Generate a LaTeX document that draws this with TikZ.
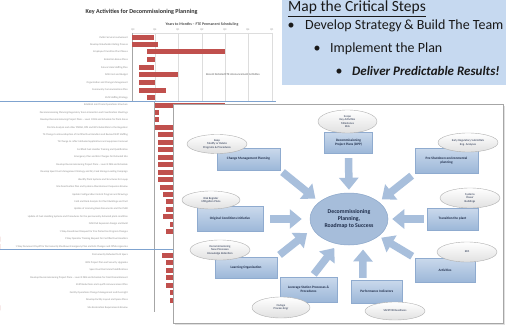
\documentclass[tikz,border=0pt]{standalone}
\usepackage{fontspec}
\setmainfont{Carlito}
\usetikzlibrary{arrows.meta,shapes.geometric,shadows}

\definecolor{labelgray}{HTML}{8C8C8C}
\definecolor{gridgray}{HTML}{DDDDDD}
\definecolor{barred}{HTML}{C0504D}
\definecolor{sepblue}{HTML}{7FA3CF}
\definecolor{notebg}{HTML}{C6D9F0}
\definecolor{boxtop}{HTML}{CAD9EC}
\definecolor{boxbot}{HTML}{9CB7D8}
\definecolor{boxline}{HTML}{8FABCF}
\definecolor{arrowblue}{HTML}{A8BFDC}
\definecolor{hubfill}{HTML}{A6BDDA}
\definecolor{hubline}{HTML}{8AA6C9}
\definecolor{ovalline}{HTML}{B0B0B0}
\definecolor{navy}{HTML}{1F2D4A}

\begin{document}
\begin{tikzpicture}[x=1pt,y=-1pt,
  rowlabel/.style={anchor=east,inner sep=0pt,text=labelgray,font=\fontsize{2.6}{3}\selectfont},
  bar/.style={fill=barred},
  gridline/.style={draw=gridgray,line width=0.4pt},
  axisline/.style={draw=black!35,line width=0.4pt},
  sepline/.style={draw=sepblue,line width=0.7pt},
  tick/.style={inner sep=0pt,text=labelgray,font=\fontsize{2.6}{3}\selectfont},
  stepbox/.style={rectangle,draw=boxline,line width=0.4pt,top color=boxtop,bottom color=boxbot,
    inner sep=1pt,align=center,text=navy,font=\bfseries\fontsize{3.4}{4.1}\selectfont,
    drop shadow={shadow xshift=0.8pt,shadow yshift=-0.8pt,opacity=0.25}},
  oval/.style={ellipse,draw=ovalline,line width=0.4pt,top color=white,bottom color=black!12,
    inner sep=0pt,align=center,text=navy,font=\fontsize{2.9}{3.5}\selectfont},
  hubstyle/.style={ellipse,draw=hubline,line width=0.5pt,fill=hubfill,inner sep=0pt,
    minimum width=78pt,minimum height=52pt,align=center,text=navy,
    font=\bfseries\fontsize{5.8}{7.4}\selectfont},
  blockarrow/.style={draw=arrowblue,line width=7.5pt,-{Triangle[width=19pt,length=12pt]}},
  notetext/.style={anchor=base west,inner sep=0pt,text=black!90,font=\fontsize{14}{16}\selectfont}
]
\useasboundingbox (0,0) rectangle (506,329);
\fill[white] (0,0) rectangle (506,329);

% ---------------- Gantt chart of planning activities ----------------
\node[inner sep=0pt,text=black!80,font=\bfseries\fontsize{6.1}{7}\selectfont] (ctitle) at (141.5,12) {Key Activities for Decommissioning Planning};
\node[inner sep=0pt,text=black!70,font=\bfseries\fontsize{3.9}{5}\selectfont] (csub) at (202,24) {Years to Months -- FTE Permanent Scheduling};

\foreach \x/\t [count=\i] in {133/Q3,155/Q4,178/Q1,202/Q2,225/Q3,248/Q4,272/Q1}
  \node[tick] (tk\i) at (\x,29.5) {\t};
\draw[gridline] (132,33) -- (273,33);
\foreach \x in {155,178,202,225,248,272}
  \draw[gridline] (\x,33) -- (\x,101);
\draw[axisline] (132,33) -- (132,101);
\draw[axisline] (154.5,101) -- (154.5,312);

\node[inner sep=0pt,text=black!65,font=\fontsize{2.9}{3.5}\selectfont] (cnote) at (233,75) {Recent Detailed FTE Announcement Activities};

% first group
\foreach \y/\t/\a/\b [count=\i] in {
  38/{Public Service Involvement}/132/154,
  44.5/{Develop Stakeholder Rating Process}/132/158,
  52/{Employee Transition Plan Phases}/147/225,
  60/{Retention Bonus Plans}/147/155,
  67.5/{Future State Staffing Plan}/139/154,
  75/{ISFSI Cost and Budget}/139/178,
  82.5/{Organization and Change Management}/139/155,
  90/{Community Communications Plan}/139/166,
  97.5/{EMS Staffing Strategy}/147/155}{
  \node[rowlabel] (ra\i) at (128,\y) {\t};
  \fill[bar] (\a,\y-2.5) rectangle (\b,\y+2.5);
}

% second group
\foreach \y/\t/\a/\b [count=\i] in {
  105/{Establish Joint Team Operations Structure}/155/225,
  112.5/{Decommissioning Planning Regulatory Team Interaction and Coordination Meetings}/155/159,
  119.9/{Develop Decommissioning Project Plans -- Level 1 DBS and Schedule for Plant Areas}/155/159,
  127.4/{File Site Analysis and other PSDAR, DPS and ISFSI Submittals to the Regulator}/155/190,
  134.8/{TS Change to allow Adoption of Certified Fuel Handlers and Revised Shift Staffing}/158/190,
  142.3/{TS Change to reflect defueled applications and equipment removal}/158/190,
  149.7/{Certified Fuel Handler Training and Qualification}/158/190,
  157.2/{Emergency Plan and EAL Changes for Defueled Site}/158/190,
  164.6/{Develop Decommissioning Project Plans -- Level 2 DBS and Schedule}/158/190,
  172.1/{Develop Spent Fuel Management Strategy and Dry Cask Storage Loading Campaign}/158/190,
  179.5/{Identify Plant Systems and Structures for Layup}/158/190,
  187/{Site Deactivation Plan and Systems Abandonment Sequence Review}/160/190,
  194.4/{Update Configuration Control Program and Drawings}/163/190,
  201.9/{Cold and Dark Analysis for Plant Buildings and Yard}/166/190,
  209.3/{Update of Licensing Basis Documents and the FSAR}/166/190,
  216.8/{Update of Fuel Handling Systems and Procedures for the permanently defueled plant condition}/163/190,
  224.2/{ISFSI Pad Expansion Design and Build}/170/190,
  231.7/{1 Way Amendment Request for Fire Protection Program Changes}/166/190,
  239.1/{1 Way Operator Training Request for Certified Fuel Handlers}/0/0,
  246.6/{1 Way Document Payoff for Permanently Shutdown Emergency Plan and EAL Changes and Offsite Agencies}/0/0}{
  \node[rowlabel] (rb\i) at (128,\y) {\t};
  \fill[bar] (\a,\y-2.5) rectangle (\b,\y+2.5);
}

% third group
\foreach \y/\t/\a/\b [count=\i] in {
  255/{Permanently Defueled Tech Specs}/162/190,
  262.6/{ISFSI Project Plan and Security Upgrades}/166/190,
  270.1/{Spent Fuel Pool Island Modifications}/166/190,
  277.7/{Develop Decommissioning Project Plans -- Level 3 DBS and Schedule for Final Dismantlement}/166/190,
  285.2/{Staff Reductions and Layoffs Announcement Plan}/166/190,
  292.8/{Facility Operations Change Management and Oversight}/170/190,
  300.3/{Develop Facility Layout and Space Plans}/170/190,
  307.9/{Site Restoration Requirements Review}/0/0}{
  \node[rowlabel] (rc\i) at (128,\y) {\t};
  \fill[bar] (\a,\y-2.5) rectangle (\b,\y+2.5);
}

\draw[sepline] (0,101) -- (276,101);
\draw[sepline] (0,249.5) -- (173,249.5);

% ---------------- roadmap panel ----------------
\fill[black!12] (175,106) rectangle (505,325);
\filldraw[fill=white,draw=black!35,line width=0.6pt] (173,104) rectangle (503,323);

\node[hubstyle] (hub) at (349,219) {Decommissioning\\Planning,\\Roadmap to Success};

\node[stepbox,minimum width=63pt,minimum height=22pt] (cm) at (248.5,159) {Change Management Planning};
\node[stepbox,minimum width=48pt,minimum height=21pt] (dpp) at (348.5,142.5) {Decommissioning\\Project Plans (DPP)};
\node[stepbox,minimum width=63pt,minimum height=25pt] (pre) at (446.5,160.5) {Pre-Shutdown environmental\\planning};
\node[stepbox,minimum width=51pt,minimum height=22pt] (trans) at (452.5,219) {Transition the plant};
\node[stepbox,minimum width=60pt,minimum height=24pt] (act) at (445,270) {Activities};
\node[stepbox,minimum width=51pt,minimum height=23pt] (perf) at (376.7,291.5) {Performance Indicators};
\node[stepbox,minimum width=57pt,minimum height=25pt] (lev) at (308.5,289.5) {Leverage Station Processes \&\\Procedures};
\node[stepbox,minimum width=62pt,minimum height=21pt] (learn) at (246,267.5) {Learning Organization};
\node[stepbox,minimum width=66pt,minimum height=25pt] (orig) at (230,219) {Original Conditions Initiative};

\node[oval,minimum width=60pt,minimum height=19pt] (okeep) at (217,144) {Keep\\Modify or Delete\\Programs \& Procedures};
\node[oval,minimum width=59pt,minimum height=23pt] (oscope) at (347.5,121.5) {Scope\\Key Activities\\Milestones\\Risk};
\node[oval,minimum width=60pt,minimum height=19pt] (oearly) at (468,142.5) {Early Regulatory Submittals\\Eng. Analyses};
\node[oval,minimum width=60pt,minimum height=20pt] (osys) at (470,198) {Systems\\Power\\Buildings};
\node[oval,minimum width=60pt,minimum height=20pt] (oepa) at (467,252) {EPA};
\node[oval,minimum width=60pt,minimum height=18pt] (osaf) at (395,311) {SAFSTOR Readiness};
\node[oval,minimum width=58pt,minimum height=21pt] (oout) at (281,307.5) {Outage\\Process Engr};
\node[oval,minimum width=60pt,minimum height=20pt] (odec) at (220,250) {Decommissioning\\New Processes\\Knowledge Retention};
\node[oval,minimum width=58pt,minimum height=18pt] (orisk) at (211,200) {Risk Register\\Mitigation Plans};

\draw[blockarrow,shorten <=3pt,shorten >=5pt] (cm.south east) -- (hub.150);
\draw[blockarrow,shorten <=5pt,shorten >=3pt] (dpp.south) -- (hub.north);
\draw[blockarrow,shorten <=4pt,shorten >=4pt] (pre.south west) -- (hub.30);
\draw[blockarrow,shorten <=3pt,shorten >=4pt] (trans.west) -- (hub.east);
\draw[blockarrow,shorten <=3pt,shorten >=3pt] (act.north west) -- (hub.-30);
\draw[blockarrow,shorten <=2pt,shorten >=6pt] (perf.140) -- (hub.-60);
\draw[blockarrow,shorten <=3pt,shorten >=5pt] (lev.75) -- (hub.-115);
\draw[blockarrow,shorten <=3pt,shorten >=7pt] (learn.north east) -- (hub.-165);
\draw[blockarrow,shorten <=7pt,shorten >=8pt] (orig.east) -- (hub.west);

% ---------------- critical steps note ----------------
\fill[notebg] (282,0) rectangle (506,85);
\node[notetext,font=\fontsize{15.5}{17}\selectfont] (ntitle) at (288,12) {\underline{Map the Critical Steps}};
\node[notetext] (nb1) at (287.5,30) {•};
\node[notetext] (nl1) at (305,30) {Develop Strategy\,\& Build The Team};
\node[notetext] (nb2) at (313.5,53) {•};
\node[notetext] (nl2) at (330,53) {Implement the Plan};
\node[notetext] (nb3) at (335.5,76) {•};
\node[notetext,font=\bfseries\itshape\fontsize{13}{15}\selectfont] (nl3) at (352,76) {Deliver Predictable Results!};
\end{tikzpicture}
\end{document}
